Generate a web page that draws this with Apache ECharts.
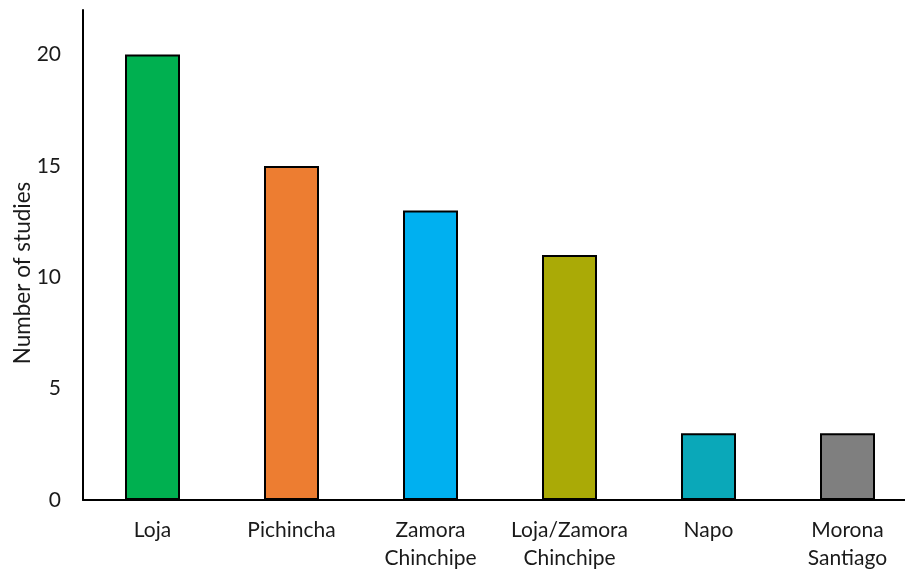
<!DOCTYPE html>
<html>
<head>
<meta charset="utf-8">
<script src="https://cdn.jsdelivr.net/npm/echarts@6/dist/echarts.min.js"></script>
<style>
  html, body { margin: 0; padding: 0; background: #fff; }
  #chart { width: 905px; height: 572px; }
</style>
</head>
<body>
<div id="chart"></div>
<script>
// Studies per province
const categories = ['Loja', 'Pichincha', 'Zamora\nChinchipe', 'Loja/Zamora\nChinchipe', 'Napo', 'Morona\nSantiago'];
const studies = [20, 15, 13, 11, 3, 3];
const barColors = ['#00B050', '#ED7D31', '#00B0F0', '#AAAA06', '#0AA8B9', '#7F7F7F'];
const yTicks = [0, 5, 10, 15, 20];

const font = 'Lato, "Open Sans", sans-serif';
const chart = echarts.init(document.getElementById('chart'));
chart.setOption({
  animation: false,
  grid: { left: 83, width: 834, top: 10, bottom: 72, containLabel: false, outerBoundsMode: 'none' },
  xAxis: {
    type: 'category',
    data: categories,
    axisLine: { lineStyle: { color: '#000', width: 2 } },
    axisTick: { show: false },
    axisLabel: { color: '#1a1a1a', fontFamily: font, fontSize: 21, lineHeight: 28, margin: 16, interval: 0 }
  },
  yAxis: {
    type: 'value',
    min: 0,
    max: 22,
    interval: 5,
    name: 'Number of studies',
    nameLocation: 'middle',
    nameGap: 49,
    nameMoveOverlap: false,
    nameTextStyle: { color: '#1a1a1a', fontFamily: font, fontSize: 22.5, padding: [0, 36, 0, 0] },
    splitLine: { show: false },
    axisLine: { show: true, lineStyle: { color: '#000', width: 2 } },
    axisTick: { show: false },
    axisLabel: {
      color: '#1a1a1a', fontFamily: font, fontSize: 21, margin: 22,
      formatter: v => (yTicks.includes(v) ? String(v) : '')
    }
  },
  series: [{
    type: 'bar',
    data: studies.map((v, i) => ({ value: v, itemStyle: { color: barColors[i] } })),
    barWidth: 55,
    itemStyle: { borderColor: '#000', borderWidth: 2 }
  }]
});
</script>
</body>
</html>
